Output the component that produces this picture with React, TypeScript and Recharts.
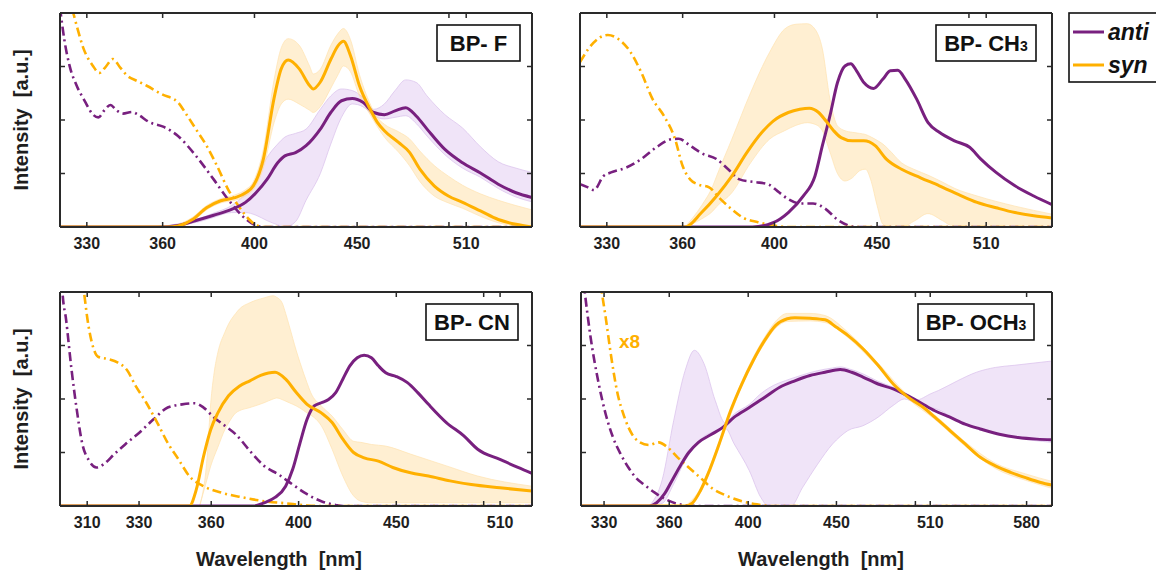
import React from 'react';
import { ComposedChart, Line, Area, XAxis, YAxis } from 'recharts';

const PURPLE = '#78207F';
const ORANGE = '#FFB000';
const BAND_P = '#C89BE6';
const BAND_O = '#FFC04A';
const FRAME = '#2A2A2A';
const TEXT = '#1E1E1E';
const FONT = '"Liberation Sans", Arial, Helvetica, sans-serif';

// ---------- BP-F ----------
const fTicks = [330, 360, 400, 450, 500, 510];
const fAntiAbs = [[320,4.1],[321.6,3.5],[323.5,3.02],[326.2,2.64],[329.5,2.33],[332,2.12],[334.4,2.05],[337,2.2],[339,2.28],[341.5,2.18],[344,2.12],[347.5,2.15],[350,2.1],[354.5,1.96],[360.5,1.87],[366.4,1.7],[374,1.33],[381.7,0.89],[388,0.52],[394.4,0.21],[399.6,0.05],[404.4,0],[550,0]];
const fSynAbs = [[322,4.4],[324.9,4.0],[326.2,3.76],[328.8,3.33],[332.2,3.02],[334.8,2.88],[337,2.98],[340,3.14],[342.9,2.98],[345.6,2.83],[349.6,2.73],[353.5,2.64],[359.7,2.48],[366.4,2.33],[369.4,2.14],[374,1.83],[378.6,1.52],[383.2,1.14],[388,0.71],[392.8,0.39],[397.6,0.14],[401,0.03],[404.4,0],[550,0]];
const fSynEm = [[320,0],[362,0],[366.4,0.02],[372.5,0.14],[378.6,0.36],[384.8,0.49],[391.2,0.55],[396,0.64],[399.5,0.77],[404.1,1.27],[409.1,2.41],[412.5,2.96],[415.8,3.12],[421,2.96],[426.2,2.64],[427.9,2.58],[431.4,2.71],[436.7,3.14],[440.3,3.39],[443,3.47],[446.6,3.2],[451.2,2.64],[456.8,2.2],[460.5,1.96],[464.3,1.8],[471.9,1.58],[477.8,1.4],[483.6,1.08],[491.6,0.77],[499.7,0.58],[507.9,0.46],[518.4,0.3],[529.1,0.14],[540,0.05],[550,0.0]];
const fAntiEm = [[320,0],[358,0],[366.4,0.03],[375.5,0.14],[381.7,0.22],[389.6,0.33],[395.9,0.46],[400.7,0.64],[405.8,0.89],[410.8,1.2],[414.2,1.33],[419.3,1.39],[424.4,1.52],[431.4,1.83],[436.6,2.14],[442,2.36],[447.5,2.4],[453,2.33],[458.7,2.14],[464.3,2.1],[470,2.17],[475.8,2.23],[481.7,2.07],[487.6,1.83],[497.7,1.45],[507.9,1.2],[518.4,1.01],[529.1,0.8],[540,0.64],[550,0.55]];
const fSynBand = [[360,0,0],[366.4,0,0.05],[372.5,0.1,0.18],[378.6,0.32,0.4],[384.8,0.45,0.53],[391.2,0.5,0.6],[396,0.58,0.7],[399.5,0.7,0.85],[404.1,1.1,1.45],[409.1,1.95,2.75],[412.5,2.3,3.35],[415.8,2.39,3.52],[421,2.3,3.4],[426.2,2.18,3.0],[427.9,2.14,2.86],[431.4,2.25,2.95],[436.7,2.6,3.4],[440.3,2.85,3.62],[443,3.01,3.71],[446.6,2.9,3.5],[451.2,2.45,2.85],[456.8,2.1,2.3],[460.5,1.88,2.05],[464.3,1.68,1.92],[471.9,1.4,1.78],[477.8,1.15,1.65],[483.6,0.85,1.42],[491.6,0.58,1.15],[499.7,0.45,0.95],[507.9,0.35,0.78],[518.4,0.2,0.62],[529.1,0.08,0.5],[540,0.02,0.4],[550,0,0.32]];
const fAntiBand = [[358,0,0],[375.5,0.1,0.16],[381.7,0.18,0.26],[389.6,0.27,0.4],[395.9,0.27,0.62],[400.7,0.22,0.9],[405.8,0.12,1.3],[410.8,0.04,1.55],[414.2,0,1.68],[419.3,0.1,1.75],[424.4,0.5,1.83],[431.4,1.0,2.2],[436.6,1.55,2.45],[442,2.05,2.58],[447.5,2.3,2.55],[453,2.25,2.42],[458.7,2.08,2.2],[464.3,2.02,2.3],[470,2.05,2.55],[475.8,2.08,2.75],[481.7,1.93,2.7],[487.6,1.7,2.45],[497.7,1.35,2.1],[507.9,1.1,1.85],[518.4,0.93,1.5],[529.1,0.72,1.22],[540,0.56,1.1],[550,0.47,1.02]];

// ---------- BP-CH3 ----------
const cTicks = [330, 360, 400, 450, 500, 510];
const cSynAbs = [[320,3.08],[323.1,3.33],[327.3,3.54],[330.4,3.59],[334.5,3.51],[338.8,3.29],[343.3,2.89],[347.8,2.39],[352.3,2.08],[356.9,1.64],[360,1.14],[363.1,0.89],[366.2,0.8],[371.1,0.74],[376,0.52],[380.9,0.33],[386,0.17],[392.5,0.09],[399.4,0.03],[406.4,0],[550,0]];
const cAntiAbs = [[320,0.8],[322.5,0.75],[325.2,0.69],[328.7,0.95],[331.6,1.02],[337.4,1.11],[343.3,1.27],[349.3,1.49],[355.4,1.64],[358.4,1.65],[363.1,1.52],[367.9,1.38],[374.3,1.27],[379.3,1.08],[384.3,0.89],[391,0.84],[397,0.8],[401.4,0.67],[406.4,0.52],[411.8,0.44],[418.1,0.44],[424.4,0.33],[429.9,0.14],[435.4,0.03],[439.1,0],[550,0]];
const cSynEm = [[320,0],[361,0],[367.9,0.27],[374.3,0.58],[380.9,0.95],[387.5,1.39],[394.3,1.77],[399.4,1.98],[406.4,2.14],[411.8,2.2],[416.3,2.22],[420.8,2.14],[424.4,1.98],[428.1,1.8],[431.8,1.67],[437.4,1.61],[443.2,1.61],[449,1.52],[454.8,1.27],[462.8,1.08],[473,0.92],[483.3,0.77],[493.9,0.61],[504.7,0.46],[515.8,0.36],[527.1,0.27],[538.6,0.21],[550,0.17]];
const cAntiEm = [[320,0],[390,0],[399.4,0.08],[406.4,0.27],[413.5,0.58],[419,0.95],[422.6,1.52],[426.3,2.08],[430,2.7],[433.7,3.01],[436.6,3.05],[439.5,2.92],[443.2,2.7],[448.1,2.59],[452.9,2.76],[456.9,2.92],[460.8,2.93],[464.8,2.76],[470.9,2.39],[477.1,1.95],[483.3,1.77],[491.8,1.61],[500.4,1.49],[506.9,1.27],[515.8,1.02],[527.1,0.77],[538.6,0.58],[550,0.42]];
const cSynBand = [[361,0,0],[367.9,0.15,0.4],[372.7,0.3,0.77],[374.3,0.38,0.95],[380.9,0.64,1.64],[389.2,1.2,2.51],[397.7,1.64,3.26],[404.7,1.8,3.7],[410,1.9,3.79],[415.3,1.95,3.8],[419,1.92,3.7],[422.6,1.8,3.33],[426.3,1.4,2.39],[430,1.0,1.89],[433.7,0.86,1.8],[437.4,0.92,1.77],[441,1.05,1.75],[444,1.08,1.73],[447,0.85,1.68],[450,0.4,1.62],[453,0.05,1.55],[456,0,1.45],[462.8,0,1.2],[470,0.12,1.07],[477,0.25,0.97],[485,0.12,0.84],[492,0,0.72],[504.7,0,0.58],[527.1,0,0.39],[550,0,0.24]];

// ---------- BP-CN ----------
const nTicks = [310, 330, 360, 400, 450, 500, 510];
const nAntiAbs = [[300,5],[300.9,4.0],[302.2,3.49],[304.2,2.55],[306.1,1.81],[308.1,1.18],[310.8,0.84],[313.5,0.72],[316.2,0.78],[320.3,0.97],[324.5,1.15],[330.1,1.37],[335.8,1.62],[341.6,1.84],[347.6,1.9],[352.9,1.92],[356.7,1.84],[361.3,1.65],[366,1.5],[370.8,1.34],[377.2,1.03],[383.7,0.75],[390.4,0.59],[397.2,0.4],[404.1,0.22],[411.1,0.09],[418.3,0.02],[421.9,0],[530,0]];
const nSynAbs = [[306,5],[308.8,4.0],[310.1,3.49],[312.1,2.99],[314.1,2.79],[317.5,2.75],[321.7,2.68],[325.1,2.55],[328.7,2.24],[332.9,1.93],[337.3,1.56],[341.6,1.18],[346.1,0.87],[350.6,0.56],[356.7,0.37],[364.4,0.25],[374,0.16],[383.7,0.09],[393.8,0.05],[404.1,0.01],[411.1,0],[530,0]];
const nSynEm = [[300,0],[350.6,0],[353.6,0.31],[356.7,0.93],[359.8,1.43],[362.9,1.74],[367.6,2.06],[372.4,2.24],[377.2,2.34],[382.1,2.44],[388.8,2.5],[393.8,2.37],[398.9,2.12],[404.1,1.9],[411.1,1.74],[416.5,1.56],[421.9,1.25],[427.4,1.0],[432.9,0.9],[440.4,0.84],[448.1,0.72],[457.8,0.62],[467.8,0.56],[480.1,0.47],[492.6,0.4],[509.9,0.34],[530,0.28]];
const nAntiEm = [[300,0],[378.8,0],[383.7,0.06],[388.8,0.16],[393.8,0.37],[397.2,0.69],[400.7,1.18],[404.1,1.62],[407.6,1.87],[411.1,1.93],[414.7,1.99],[418.3,2.12],[421.9,2.37],[425.5,2.62],[429.3,2.77],[432.9,2.82],[436.7,2.77],[440.4,2.62],[444.3,2.49],[450,2.42],[455.9,2.31],[461.8,2.12],[467.8,1.9],[478,1.56],[488.2,1.31],[496.4,1.06],[509.9,0.87],[521.1,0.72],[530,0.61]];
const nSynBand = [[355,0,0],[358.2,0.5,0.9],[359.8,0.75,1.93],[361.3,0.93,2.5],[362.9,1.1,2.87],[366,1.43,3.25],[367.6,1.55,3.4],[370.8,1.74,3.6],[372.4,1.78,3.68],[377.2,1.84,3.8],[383.7,1.93,3.89],[387.9,2.0,3.93],[389.6,2.02,3.9],[392.1,1.99,3.8],[393.8,1.96,3.6],[395.5,1.93,3.37],[398.9,1.87,2.9],[400.7,1.83,2.68],[404.1,1.74,2.3],[405.9,1.7,2.12],[411.1,1.5,1.87],[416.5,1.06,1.68],[421.9,0.56,1.43],[427.4,0.19,1.21],[431.1,0.09,1.19],[436.7,0.06,1.15],[444.3,0.06,1.12],[457.8,0.06,0.97],[478,0.06,0.75],[496.4,0.06,0.56],[530,0.06,0.37]];

// ---------- BP-OCH3 ----------
const oTicks = [330, 360, 400, 450, 500, 510, 580];
const oAntiAbs = [[320,4.6],[321.6,4.0],[324.1,3.16],[327.4,2.34],[330.7,1.72],[334,1.28],[337.4,0.97],[340.9,0.72],[344.3,0.53],[347.8,0.41],[353.1,0.25],[358.5,0.12],[364,0.04],[369.5,0.01],[377.1,0],[600,0]];
const oSynAbs = [[327,4.6],[329,4.0],[330.7,3.53],[333.2,2.78],[335.7,2.16],[339.1,1.66],[342.6,1.34],[346.1,1.19],[350.5,1.14],[354.9,1.19],[359.4,1.09],[364,0.91],[369.5,0.72],[375.2,0.53],[380.9,0.34],[388.7,0.19],[396.6,0.09],[404.7,0.03],[413,0],[600,0]];
const oSynEm = [[320,0],[367.7,0],[371.4,0.06],[375.2,0.28],[379,0.59],[384.8,1.16],[390.7,1.78],[396.6,2.28],[402.7,2.72],[408.8,3.09],[415.1,3.38],[421.4,3.5],[425.7,3.52],[434.4,3.51],[443.2,3.48],[450,3.34],[456.9,3.19],[466.2,2.94],[475.7,2.63],[485.4,2.28],[495.3,2.03],[505.4,1.84],[513.1,1.66],[523.6,1.41],[534.3,1.16],[545.2,0.91],[556.3,0.75],[567.7,0.63],[579.2,0.53],[591,0.44],[600,0.39]];
const oAntiEm = [[320,0],[350.5,0],[354,0.06],[357.6,0.22],[362.1,0.53],[365.8,0.78],[369.5,1.0],[374.3,1.19],[380.9,1.34],[386.7,1.47],[392.6,1.66],[400.6,1.84],[408.8,2.03],[417.2,2.22],[425.7,2.34],[434.4,2.44],[443.2,2.5],[452.3,2.55],[459.2,2.5],[466.2,2.41],[475.7,2.28],[485.4,2.19],[492.8,2.09],[502.9,1.94],[513.1,1.78],[523.6,1.66],[534.3,1.53],[545.2,1.44],[559.2,1.34],[573.4,1.28],[588,1.25],[600,1.24]];
const oAntiBand = [[350.5,0,0],[356.7,0.05,0.5],[362.1,0.41,1.59],[367.7,0.85,2.53],[372.3,1.1,2.91],[377.1,1.3,2.66],[382.8,1.4,1.97],[388,1.45,1.55],[392.6,1.16,1.72],[400.6,0.66,1.9],[406.8,0.16,2.1],[410.9,0,2.2],[423.5,0,2.38],[430,0.34,2.45],[438.8,0.78,2.53],[447.7,1.16,2.58],[452.3,1.3,2.6],[456.9,1.41,2.57],[466.2,1.5,2.47],[475.7,1.66,2.33],[485.4,1.88,2.22],[492.8,2.0,2.12],[500.3,1.92,1.98],[510.5,1.84,2.1],[515.7,1.8,2.16],[528.9,1.59,2.34],[542.4,1.44,2.5],[556.3,1.36,2.59],[570.5,1.28,2.63],[600,1.19,2.71]];
const oSynBand = [[367.7,0,0],[375.2,0.25,0.32],[384.8,1.12,1.2],[396.6,2.24,2.33],[408.8,3.04,3.15],[415.1,3.33,3.46],[421.4,3.45,3.6],[434.4,3.46,3.6],[443.2,3.43,3.56],[456.9,3.15,3.25],[475.7,2.6,2.67],[495.3,2.0,2.06],[513.1,1.62,1.7],[534.3,1.12,1.2],[556.3,0.7,0.8],[579.2,0.48,0.6],[600,0.33,0.46]];

const yTicks = [0, 1, 2, 3, 4];

type Row = { x: number; y: number };
type BandRow = { x: number; lo: number; hi: number };
const toRows = (a: number[][]): Row[] => a.map(([x, y]) => ({ x, y }));
const toBand = (a: number[][]): BandRow[] => a.map(([x, lo, hi]) => ({ x, lo, hi }));

const BottomTick = (props: any) => {
  const { x, y, payload } = props;
  const v = payload?.value;
  return (
    <g>
      <line x1={x} x2={x} y1={y} y2={y - 5} stroke={FRAME} strokeWidth={1.5} />
      {v !== 500 && (
        <text x={x} y={y + 22} textAnchor="middle" fontSize={16} fontWeight={700} fill={TEXT} fontFamily={FONT}>
          {v}
        </text>
      )}
    </g>
  );
};
const TopTick = (props: any) => {
  const { x, y } = props;
  return <line x1={x} x2={x} y1={y} y2={y + 5} stroke={FRAME} strokeWidth={1.5} />;
};
const LeftTick = (props: any) => {
  const { x, y, payload } = props;
  const v = payload?.value;
  if (v === 0 || v === 4) return <g />;
  return <line x1={x} x2={x + 5} y1={y} y2={y} stroke={FRAME} strokeWidth={1.5} />;
};
const RightTick = (props: any) => {
  const { x, y, payload } = props;
  const v = payload?.value;
  if (v === 0 || v === 4) return <g />;
  return <line x1={x} x2={x - 5} y1={y} y2={y} stroke={FRAME} strokeWidth={1.5} />;
};

type PanelProps = {
  rect: [number, number, number, number];
  domain: [number, number];
  ticks: number[];
  antiAbs: number[][];
  synAbs: number[][];
  antiEm: number[][];
  synEm: number[][];
  antiBand?: number[][];
  synBand?: number[][];
};

function Panel({ rect, domain, ticks, antiAbs, synAbs, antiEm, synEm, antiBand, synBand }: PanelProps) {
  const [x0, y0, x1, y1] = rect;
  const padL = 60, padT = 15, padR = 15, padB = 50;
  const XH = 30;
  const W = x1 - x0 + padL + padR;
  const H = y1 - y0 + padT + padB;
  const axisLine = { stroke: FRAME, strokeWidth: 2 };
  return (
    <div style={{ position: 'absolute', left: x0 - padL, top: y0 - padT, width: W, height: H }}>
      <ComposedChart width={W} height={H} margin={{ left: padL - 1, right: padR - 1, top: padT - 1, bottom: padB - XH }}>
        <XAxis xAxisId="b" type="number" scale="log" dataKey="x" domain={domain} allowDataOverflow ticks={ticks} interval={0}
          tickSize={0} tickMargin={0} height={XH} tick={BottomTick} tickLine={false} axisLine={axisLine} />
        <XAxis xAxisId="t" orientation="top" type="number" scale="log" dataKey="x" domain={domain} allowDataOverflow ticks={ticks} interval={0}
          tickSize={0} tickMargin={0} height={1} tick={TopTick} tickLine={false} axisLine={axisLine} />
        <YAxis yAxisId="l" type="number" domain={[0, 4]} allowDataOverflow ticks={yTicks} interval={0}
          tickSize={0} tickMargin={0} width={1} tick={LeftTick} tickLine={false} axisLine={axisLine} />
        <YAxis yAxisId="r" orientation="right" type="number" domain={[0, 4]} allowDataOverflow ticks={yTicks} interval={0}
          tickSize={0} tickMargin={0} width={1} tick={RightTick} tickLine={false} axisLine={axisLine} />
        {antiBand && (
          <Area xAxisId="b" yAxisId="l" data={toBand(antiBand)} dataKey={(d: BandRow) => [d.lo, d.hi]} type="monotone"
            stroke="#D9BEEB" strokeWidth={0.7} fill={BAND_P} fillOpacity={0.27} isAnimationActive={false} dot={false} activeDot={false} />
        )}
        {synBand && (
          <Area xAxisId="b" yAxisId="l" data={toBand(synBand)} dataKey={(d: BandRow) => [d.lo, d.hi]} type="monotone"
            stroke="#FFE2B0" strokeWidth={0.7} fill={BAND_O} fillOpacity={0.25} isAnimationActive={false} dot={false} activeDot={false} />
        )}
        <Line xAxisId="b" yAxisId="l" data={toRows(antiAbs)} dataKey="y" type="monotone" stroke={PURPLE} strokeWidth={2.6}
          strokeDasharray="9 4 2 4" dot={false} activeDot={false} isAnimationActive={false} />
        <Line xAxisId="b" yAxisId="l" data={toRows(synAbs)} dataKey="y" type="monotone" stroke={ORANGE} strokeWidth={2.6}
          strokeDasharray="9 4 2 4" dot={false} activeDot={false} isAnimationActive={false} />
        <Line xAxisId="b" yAxisId="l" data={toRows(antiEm)} dataKey="y" type="monotone" stroke={PURPLE} strokeWidth={3}
          dot={false} activeDot={false} isAnimationActive={false} />
        <Line xAxisId="b" yAxisId="l" data={toRows(synEm)} dataKey="y" type="monotone" stroke={ORANGE} strokeWidth={3}
          dot={false} activeDot={false} isAnimationActive={false} />
      </ComposedChart>
    </div>
  );
}

const LabelBox = ({ x, y, w, h, main, sub }: { x: number; y: number; w: number; h: number; main: string; sub?: string }) => (
  <g>
    <rect x={x} y={y} width={w} height={h} fill="#fff" stroke="#111" strokeWidth={1.6} />
    <text x={x + w / 2} y={y + h / 2 + 8} textAnchor="middle" fontSize={22} fontWeight={700} fill="#111" fontFamily={FONT}>
      {main}
      {sub && <tspan fontSize={14}>{sub}</tspan>}
    </text>
  </g>
);

export default function App() {
  return (
    <div style={{ position: 'absolute', left: 0, top: 0, width: 1156, height: 570, background: '#fff', overflow: 'hidden' }}>
      <Panel rect={[60, 13, 532, 227]} domain={[320, 550]} ticks={fTicks} antiAbs={fAntiAbs} synAbs={fSynAbs}
        antiEm={fAntiEm} synEm={fSynEm} antiBand={fAntiBand} synBand={fSynBand} />
      <Panel rect={[580, 13, 1052, 227]} domain={[320, 550]} ticks={cTicks} antiAbs={cAntiAbs} synAbs={cSynAbs}
        antiEm={cAntiEm} synEm={cSynEm} synBand={cSynBand} />
      <Panel rect={[60, 292, 532, 506]} domain={[300, 530]} ticks={nTicks} antiAbs={nAntiAbs} synAbs={nSynAbs}
        antiEm={nAntiEm} synEm={nSynEm} synBand={nSynBand} />
      <Panel rect={[581, 292, 1052, 506]} domain={[320, 600]} ticks={oTicks} antiAbs={oAntiAbs} synAbs={oSynAbs}
        antiEm={oAntiEm} synEm={oSynEm} antiBand={oAntiBand} synBand={oSynBand} />
      <svg width={1156} height={570} style={{ position: 'absolute', left: 0, top: 0, pointerEvents: 'none' }}>
        <text transform="translate(21,120) rotate(-90)" textAnchor="middle" dominantBaseline="central" fontSize={20} fontWeight={700} fill={TEXT} fontFamily={FONT}>
          {'Intensity\u00A0 [a.u.]'}
        </text>
        <text transform="translate(21,399) rotate(-90)" textAnchor="middle" dominantBaseline="central" fontSize={20} fontWeight={700} fill={TEXT} fontFamily={FONT}>
          {'Intensity\u00A0 [a.u.]'}
        </text>
        <text x={279} y={566} textAnchor="middle" fontSize={20} fontWeight={700} fill={TEXT} fontFamily={FONT}>
          {'Wavelength\u00A0 [nm]'}
        </text>
        <text x={821} y={566} textAnchor="middle" fontSize={20} fontWeight={700} fill={TEXT} fontFamily={FONT}>
          {'Wavelength\u00A0 [nm]'}
        </text>
        <LabelBox x={437} y={25} w={83} h={36} main="BP- F" />
        <LabelBox x={936} y={25} w={100} h={36} main="BP- CH" sub="3" />
        <LabelBox x={426} y={304} w={92} h={36} main="BP- CN" />
        <LabelBox x={918} y={304} w={116} h={36} main="BP- OCH" sub="3" />
        <text x={619} y={348} fontSize={19} fontWeight={700} fill={ORANGE} fontFamily={FONT}>x8</text>
        <g>
          <rect x={1069} y={13} width={100} height={69} fill="#fff" stroke="#111" strokeWidth={1.6} />
          <line x1={1073} x2={1104} y1={32} y2={32} stroke={PURPLE} strokeWidth={3} />
          <text x={1108} y={40} fontSize={23} fontWeight={700} fontStyle="italic" fill="#111" fontFamily={FONT}>anti</text>
          <line x1={1073} x2={1104} y1={65} y2={65} stroke={ORANGE} strokeWidth={3} />
          <text x={1108} y={73} fontSize={23} fontWeight={700} fontStyle="italic" fill="#111" fontFamily={FONT}>syn</text>
        </g>
      </svg>
    </div>
  );
}
